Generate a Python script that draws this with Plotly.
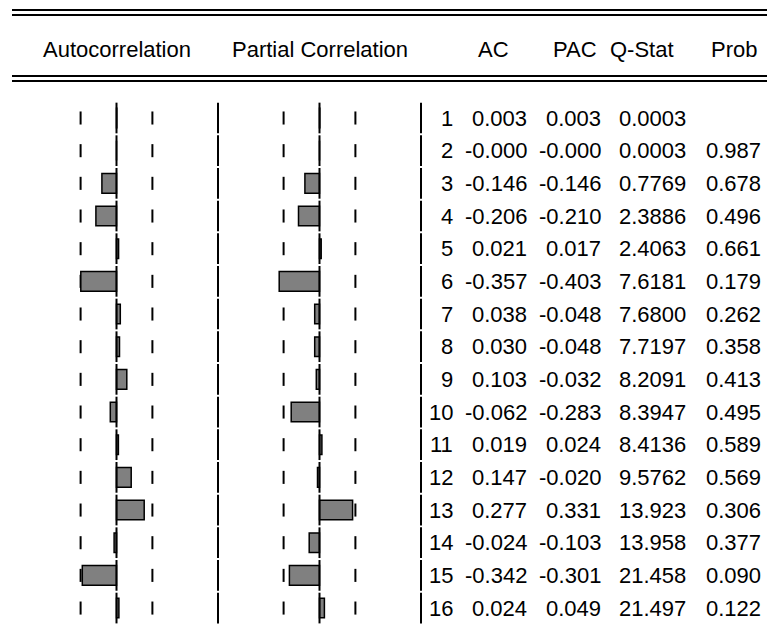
import plotly.graph_objects as go

# ---------------- data ----------------
LAGS = list(range(1, 17))
AC_TXT = ["0.003", "-0.000", "-0.146", "-0.206", "0.021", "-0.357", "0.038", "0.030",
          "0.103", "-0.062", "0.019", "0.147", "0.277", "-0.024", "-0.342", "0.024"]
PAC_TXT = ["0.003", "-0.000", "-0.146", "-0.210", "0.017", "-0.403", "-0.048", "-0.048",
           "-0.032", "-0.283", "0.024", "-0.020", "0.331", "-0.103", "-0.301", "0.049"]
QSTAT_TXT = ["0.0003", "0.0003", "0.7769", "2.3886", "2.4063", "7.6181", "7.6800", "7.7197",
             "8.2091", "8.3947", "8.4136", "9.5762", "13.923", "13.958", "21.458", "21.497"]
PROB_TXT = ["", "0.987", "0.678", "0.496", "0.661", "0.179", "0.262", "0.358",
            "0.413", "0.495", "0.589", "0.569", "0.306", "0.377", "0.090", "0.122"]
BOUND = 0.359          # +/- 2 standard-error band
PANEL_TITLES = ["Autocorrelation", "Partial Correlation"]
COL_HEADERS = ["AC", "PAC", "Q-Stat", "Prob"]

AC = [float(s) for s in AC_TXT]
PAC = [float(s) for s in PAC_TXT]

# ---------------- layout helpers ----------------
W, H = 767, 632
FONT = "Liberation Sans, Arial, sans-serif"
FS = 22
ROW_TOP_PX, ROW_PITCH = 118.0, 32.67


def px(x):
    return x / W


def py(y):
    return 1 - y / H


y_top = 1 - ROW_TOP_PX / ROW_PITCH
y_bot = 1 + (H - ROW_TOP_PX) / ROW_PITCH

SEP = 1.015  # panel right-edge separator (in correlation units)


def segs(xval, half):
    xs, ys = [], []
    for k in LAGS:
        xs += [xval, xval, None]
        ys += [k - half, k + half, None]
    return xs, ys


fig = go.Figure()

# base axis (x / x2) carries the dashed bounds; overlay axis (x3 / x4) carries bars on top
for vals, xa_base, xa_top in [(AC, "x", "x3"), (PAC, "x2", "x4")]:
    for b in (-BOUND, BOUND):
        xs, ys = segs(b, 0.2)
        fig.add_trace(go.Scatter(x=xs, y=ys, mode="lines", line=dict(color="black", width=2),
                                 xaxis=xa_base, yaxis="y", hoverinfo="skip", showlegend=False))
    fig.add_trace(go.Bar(
        x=vals, y=LAGS, orientation="h", width=0.6, base=0,
        marker=dict(color="#808080", line=dict(color="black", width=1.5)),
        xaxis=xa_top, yaxis="y", hoverinfo="skip", showlegend=False))
    # zero line
    xs, ys = segs(0, 0.47)
    fig.add_trace(go.Scatter(x=xs, y=ys, mode="lines", line=dict(color="black", width=2),
                             xaxis=xa_top, yaxis="y", hoverinfo="skip", showlegend=False))
    # right separator
    xs, ys = segs(SEP, 0.47)
    fig.add_trace(go.Scatter(x=xs, y=ys, mode="lines", line=dict(color="black", width=2),
                             xaxis=xa_top, yaxis="y", hoverinfo="skip", showlegend=False))

annotations = []
# table values
cols = [([str(k) for k in LAGS], 455), (AC_TXT, 529), (PAC_TXT, 603), (QSTAT_TXT, 688), (PROB_TXT, 763)]
for texts, xr in cols:
    for k, t in zip(LAGS, texts):
        if t == "":
            continue
        annotations.append(dict(x=px(xr), xref="paper", y=k, yref="y", text=t,
                                showarrow=False, xanchor="right", yanchor="middle",
                                font=dict(family=FONT, size=FS, color="black")))
# headers
for t, xc in zip(PANEL_TITLES + COL_HEADERS, [116.5, 320, 493, 574.5, 641.5, 733.5]):
    annotations.append(dict(x=px(xc), xref="paper", y=py(50), yref="paper", text=t,
                            showarrow=False, xanchor="center", yanchor="middle",
                            font=dict(family=FONT, size=FS, color="black")))

shapes = []
for yy in (10, 15, 76, 81):
    shapes.append(dict(type="line", xref="paper", yref="paper", x0=px(12), x1=1,
                       y0=py(yy), y1=py(yy), line=dict(color="black", width=2)))

# AC axis: px 0..222, zero at 116.5 ; PAC axis: px 222..430, zero at 319.5 (100 px per unit)
AC_DOM, AC_RNG = [0, px(222)], [-1.165, 1.055]
PAC_DOM, PAC_RNG = [px(222), px(430)], [-0.975, 1.105]
fig.update_layout(
    width=W, height=H, margin=dict(l=0, r=0, t=0, b=0),
    paper_bgcolor="white", plot_bgcolor="rgba(0,0,0,0)", barmode="overlay",
    showlegend=False,
    xaxis=dict(domain=AC_DOM, range=AC_RNG, visible=False, fixedrange=True),
    xaxis2=dict(domain=PAC_DOM, range=PAC_RNG, visible=False, anchor="y", fixedrange=True),
    xaxis3=dict(domain=AC_DOM, range=AC_RNG, visible=False, anchor="y", overlaying="x",
                fixedrange=True),
    xaxis4=dict(domain=PAC_DOM, range=PAC_RNG, visible=False, anchor="y", overlaying="x2",
                fixedrange=True),
    yaxis=dict(range=[y_bot, y_top], visible=False, fixedrange=True),
    annotations=annotations, shapes=shapes,
)

fig.write_html("out.html", config={"displayModeBar": False},
               post_script="document.body.style.margin='0';")
